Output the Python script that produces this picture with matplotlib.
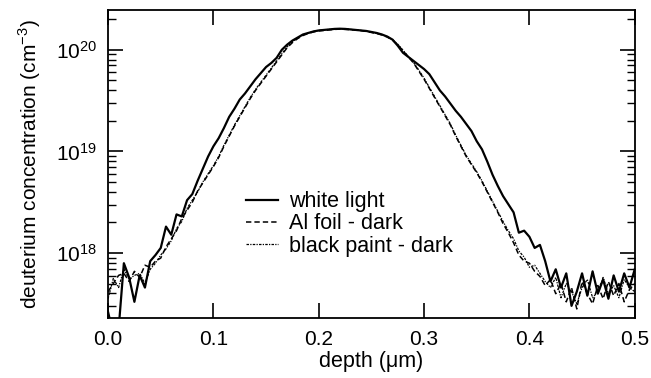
import matplotlib
matplotlib.use("Agg")
import matplotlib.pyplot as plt
import numpy as np
from matplotlib.ticker import LogLocator, MultipleLocator, NullFormatter

plt.rcParams['font.family'] = ['Liberation Sans', 'DejaVu Sans']
plt.rcParams['mathtext.fontset'] = 'custom'
plt.rcParams['mathtext.rm'] = 'Liberation Sans'

# depth grid (um)
depth = np.linspace(0.0, 0.5, 101)

# log10 of deuterium concentration (cm^-3)
white_light = [
    17.42, 17.20, 17.25, 17.90, 17.76, 17.52, 17.78, 17.66, 17.92, 17.98,
    18.05, 18.26, 18.18, 18.38, 18.36, 18.52, 18.58, 18.71, 18.83, 18.95,
    19.05, 19.13, 19.23, 19.34, 19.42, 19.51, 19.57, 19.64, 19.71, 19.77,
    19.83, 19.87, 19.92, 20.00, 20.05, 20.09, 20.12, 20.15, 20.165, 20.18,
    20.19, 20.195, 20.20, 20.205, 20.207, 20.205, 20.20, 20.195, 20.19, 20.185,
    20.175, 20.165, 20.15, 20.13, 20.10, 20.04, 19.97, 19.93, 19.89, 19.85,
    19.81, 19.76, 19.68, 19.60, 19.54, 19.47, 19.40, 19.34, 19.27, 19.20,
    19.10, 19.02, 18.90, 18.77, 18.66, 18.56, 18.48, 18.40, 18.20, 18.22,
    18.16, 18.05, 18.08, 17.92, 17.72, 17.84, 17.66, 17.80, 17.48, 17.62,
    17.80, 17.58, 17.82, 17.60, 17.74, 17.55, 17.78, 17.62, 17.80, 17.66,
    17.84,
]
al_foil = [
    17.62, 17.70, 17.78, 17.80, 17.72, 17.82, 17.76, 17.88, 17.86, 17.92,
    17.95, 18.06, 18.14, 18.22, 18.34, 18.42, 18.50, 18.61, 18.69, 18.77,
    18.85, 18.94, 19.05, 19.15, 19.25, 19.34, 19.43, 19.52, 19.60, 19.67,
    19.74, 19.81, 19.88, 19.95, 20.02, 20.07, 20.11, 20.14, 20.16, 20.175,
    20.185, 20.19, 20.195, 20.20, 20.203, 20.20, 20.198, 20.193, 20.188, 20.18,
    20.17, 20.16, 20.145, 20.125, 20.095, 20.05, 19.99, 19.93, 19.87, 19.79,
    19.71, 19.62, 19.53, 19.44, 19.35, 19.26, 19.15, 19.05, 18.95, 18.87,
    18.79, 18.70, 18.60, 18.50, 18.40, 18.29, 18.20, 18.10, 17.98, 17.92,
    17.90, 17.82, 17.77, 17.68, 17.74, 17.60, 17.70, 17.52, 17.66, 17.45,
    17.72, 17.60, 17.50, 17.68, 17.55, 17.72, 17.58, 17.70, 17.52, 17.64,
    17.70,
]
black_paint = [
    17.55, 17.75, 17.66, 17.84, 17.74, 17.78, 17.80, 17.70, 17.84, 17.90,
    17.98, 18.04, 18.12, 18.24, 18.31, 18.44, 18.52, 18.60, 18.70, 18.78,
    18.86, 18.95, 19.06, 19.16, 19.26, 19.35, 19.44, 19.53, 19.61, 19.68,
    19.75, 19.82, 19.89, 19.96, 20.03, 20.08, 20.115, 20.145, 20.165, 20.18,
    20.19, 20.195, 20.20, 20.203, 20.205, 20.203, 20.20, 20.195, 20.19, 20.182,
    20.172, 20.162, 20.15, 20.13, 20.10, 20.055, 19.995, 19.935, 19.875, 19.80,
    19.72, 19.63, 19.54, 19.45, 19.36, 19.27, 19.16, 19.06, 18.96, 18.88,
    18.80, 18.71, 18.61, 18.51, 18.41, 18.31, 18.22, 18.14, 18.02, 17.96,
    17.86, 17.88, 17.80, 17.72, 17.66, 17.76, 17.56, 17.70, 17.62, 17.50,
    17.66, 17.74, 17.56, 17.62, 17.76, 17.60, 17.68, 17.56, 17.74, 17.66,
    17.62,
]

fig = plt.figure(figsize=(6.51, 3.78), dpi=100)
ax = fig.add_axes([0.166, 0.159, 0.809, 0.815])

ax.plot(depth, 10 ** np.array(white_light), 'k-', lw=1.6, label='white light')
ax.plot(depth, 10 ** np.array(al_foil), 'k--', lw=1.1, dashes=(3.5, 2), label='Al foil - dark')
ax.plot(depth, 10 ** np.array(black_paint), 'k-.', lw=0.9, dashes=(2, 1, 1, 1), label='black paint - dark')

ax.set_yscale('log')
ax.set_xlim(0.0, 0.5)
ax.set_ylim(2.3e17, 2.47e20)
ax.xaxis.set_major_locator(MultipleLocator(0.1))
ax.yaxis.set_major_locator(LogLocator(base=10, subs=(1.0,)))
ax.yaxis.set_minor_locator(LogLocator(base=10, subs=np.arange(2, 10)))
ax.yaxis.set_minor_formatter(NullFormatter())

ax.tick_params(which='major', direction='in', length=11, width=1.2,
               top=True, right=True, labelsize=15)
ax.tick_params(axis='x', which='major', pad=9)
ax.tick_params(axis='y', which='major', pad=8)
ax.tick_params(which='minor', direction='in', length=6, width=1.0, right=True)
ax.tick_params(axis='x', which='minor', bottom=False, top=False)
for s in ax.spines.values():
    s.set_linewidth(1.3)

ax.set_xlabel('depth (\u03bcm)', fontsize=15.5, labelpad=1)
ax.set_ylabel('deuterium concentration (cm$^{\\mathdefault{-3}}$)', fontsize=15, labelpad=9)

ax.legend(loc='center left', bbox_to_anchor=(0.262, 0.305), frameon=False,
          fontsize=15.5, handlelength=1.5, handletextpad=0.5, labelspacing=0.05,
          borderpad=0, borderaxespad=0)

fig.savefig('out.png', dpi=100)
